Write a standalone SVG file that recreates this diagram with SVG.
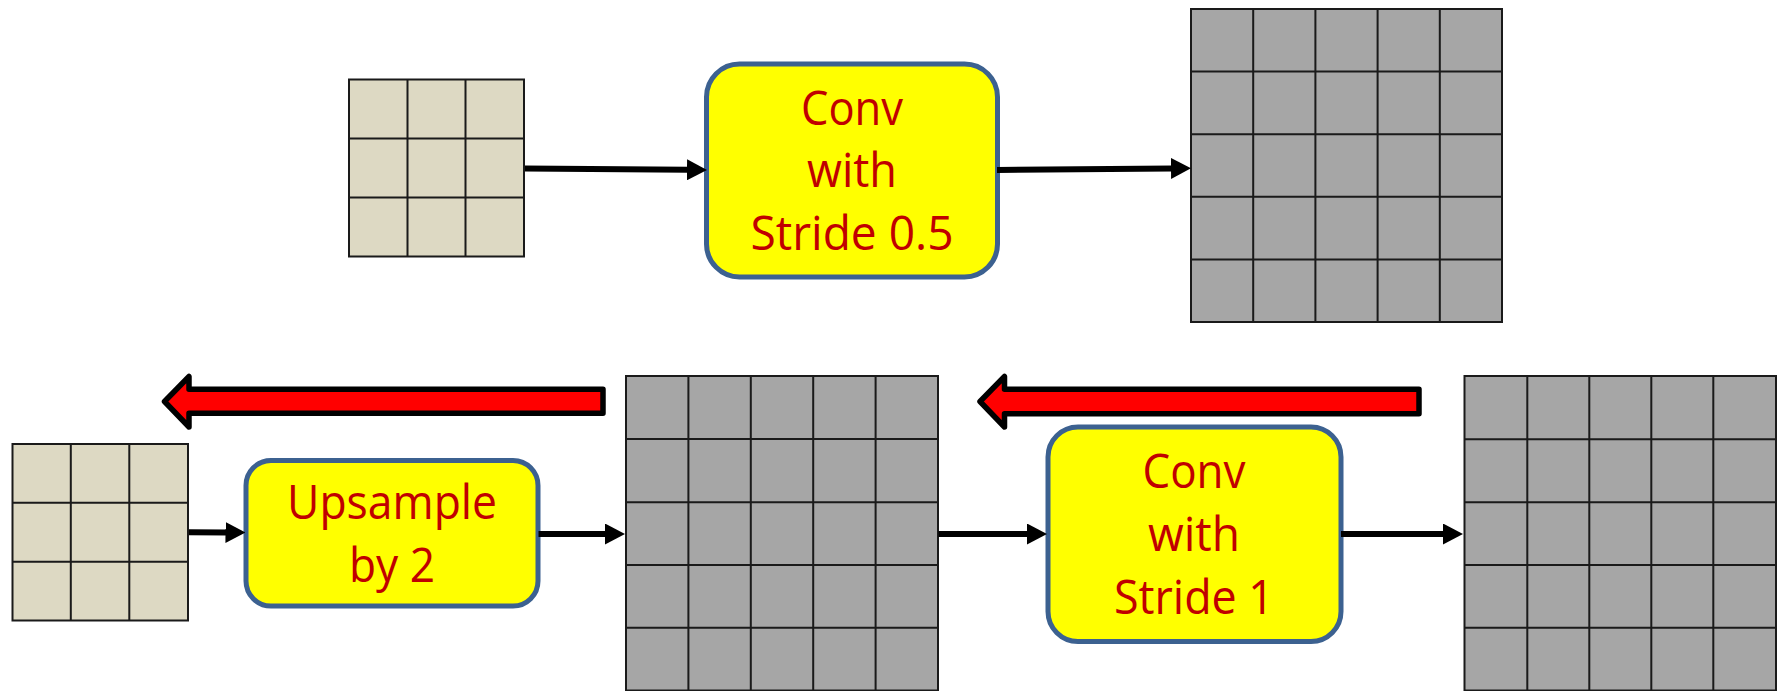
<svg xmlns="http://www.w3.org/2000/svg" width="1783" height="691" viewBox="0 0 1783 691">
<style>
.grid-beige rect{fill:#DDD9C3;}
.grid-gray rect{fill:#A6A6A6;}
.gl{stroke:#1a1a1a;stroke-width:2;fill:none;}
.box{fill:#FFFF00;stroke:#3C6190;stroke-width:5;}
.lbl{font-family:"Open Sans","Liberation Sans",sans-serif;font-size:48px;font-weight:500;fill:#C00000;text-anchor:middle;}
.conn{stroke:#000;stroke-width:6;fill:none;}
.red{fill:#FF0000;stroke:#000;stroke-width:5.5;stroke-linejoin:round;}
</style>
<defs>
<marker id="ah" viewBox="0 0 20 21" refX="1" refY="10.5" markerWidth="20" markerHeight="21" markerUnits="userSpaceOnUse" orient="auto">
<path d="M0,0 L20,10.5 L0,21 Z" fill="#000"/>
</marker>
</defs>
<rect width="1783" height="691" fill="#fff"/>

<g id="grid-top-input" class="grid-beige">
<rect x="349" y="79.5" width="175" height="177"/>
<path class="gl" d="M349,79.5 H524 V256.5 H349 Z M407.5,79.5 V256.5 M465.5,79.5 V256.5 M349,138.5 H524 M349,197.5 H524"/>
</g>

<g id="conv-stride-05">
<rect class="box" x="706.5" y="64" width="291" height="213" rx="33"/>
<text class="lbl" x="852" y="124.5" textLength="102" lengthAdjust="spacingAndGlyphs">Conv</text>
<text class="lbl" x="852" y="187" textLength="90" lengthAdjust="spacingAndGlyphs">with</text>
<text class="lbl" x="852" y="249.5" textLength="203" lengthAdjust="spacingAndGlyphs">Stride 0.5</text>
</g>

<g id="grid-top-output" class="grid-gray">
<rect x="1191" y="9" width="311" height="313"/>
<path class="gl" d="M1191,9 H1502 V322 H1191 Z M1253.2,9 V322 M1315.4,9 V322 M1377.6,9 V322 M1439.8,9 V322 M1191,71.6 H1502 M1191,134.2 H1502 M1191,196.8 H1502 M1191,259.4 H1502"/>
</g>

<g id="grid-bottom-input" class="grid-beige">
<rect x="12.5" y="444" width="175.5" height="176.5"/>
<path class="gl" d="M12.5,444 H188 V620.5 H12.5 Z M70.8,444 V620.5 M129.3,444 V620.5 M12.5,502.8 H188 M12.5,561.7 H188"/>
</g>

<g id="upsample">
<rect class="box" x="246" y="460.5" width="292" height="145.5" rx="25"/>
<text class="lbl" x="392" y="518.5" textLength="210" lengthAdjust="spacingAndGlyphs">Upsample</text>
<text class="lbl" x="392" y="581.5" textLength="86" lengthAdjust="spacingAndGlyphs">by 2</text>
</g>

<g id="grid-bottom-middle" class="grid-gray">
<rect x="626" y="376" width="312" height="316"/>
<path class="gl" d="M626,692 V376 H938 V692 M688.4,376 V692 M750.8,376 V692 M813.2,376 V692 M875.6,376 V692 M626,439 H938 M626,502.2 H938 M626,565 H938 M626,627.8 H938 M626,690.5 H938"/>
</g>

<g id="conv-stride-1">
<rect class="box" x="1048" y="427" width="293" height="214.5" rx="30"/>
<text class="lbl" x="1194" y="488" textLength="103" lengthAdjust="spacingAndGlyphs">Conv</text>
<text class="lbl" x="1194" y="551" textLength="92" lengthAdjust="spacingAndGlyphs">with</text>
<text class="lbl" x="1194" y="614" textLength="160" lengthAdjust="spacingAndGlyphs">Stride 1</text>
</g>

<g id="grid-bottom-output" class="grid-gray">
<rect x="1464.5" y="376" width="311.5" height="316"/>
<path class="gl" d="M1464.5,692 V376 H1776 V692 M1527.3,376 V692 M1589.3,376 V692 M1651.3,376 V692 M1713.3,376 V692 M1464.5,439.3 H1776 M1464.5,502.3 H1776 M1464.5,565 H1776 M1464.5,627.7 H1776 M1464.5,690.5 H1776"/>
</g>

<g id="connectors">
<line class="conn" x1="525" y1="168.5" x2="688" y2="169.8" marker-end="url(#ah)"/>
<line class="conn" x1="997" y1="170" x2="1172" y2="168.4" marker-end="url(#ah)"/>
<line class="conn" x1="189" y1="532.3" x2="226.5" y2="532.5" marker-end="url(#ah)"/>
<line class="conn" x1="538.5" y1="534" x2="606" y2="534" marker-end="url(#ah)"/>
<line class="conn" x1="938.5" y1="534" x2="1028" y2="534" marker-end="url(#ah)"/>
<line class="conn" x1="1341" y1="534" x2="1444" y2="534" marker-end="url(#ah)"/>
<path class="red" d="M164.5,401.5 L189,376.5 L189,389.3 L603,389.3 L603,413.3 L189,413.3 L189,427 Z"/>
<path class="red" d="M980,401.5 L1004.5,376.5 L1004.5,389.3 L1419,389.3 L1419,413.8 L1004.5,413.8 L1004.5,427 Z"/>
</g>
</svg>
